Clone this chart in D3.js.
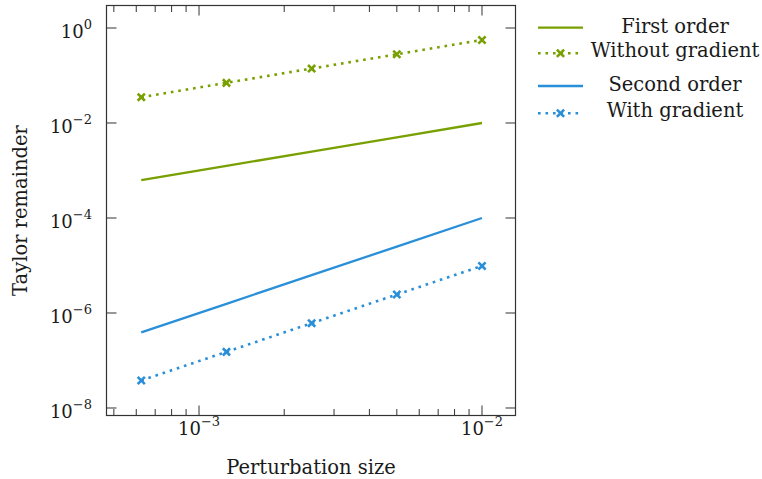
<!DOCTYPE html>
<html>
<head>
<meta charset="utf-8">
<script src="https://cdn.jsdelivr.net/npm/d3@7"></script>
<style>
  body { margin: 0; background: #fff; }
  svg { display: block; font-family: "DejaVu Serif", serif; }
</style>
</head>
<body>
<script>
// Perturbation sizes and Taylor remainders
const perturbation = [0.000625, 0.00125, 0.0025, 0.005, 0.01];
const firstOrder = [0.000625, 0.00125, 0.0025, 0.005, 0.01];
const withoutGradient = [0.035, 0.07, 0.14, 0.28, 0.56];
const secondOrder = [3.9e-7, 1.56e-6, 6.25e-6, 2.5e-5, 1e-4];
const withGradient = [3.8e-8, 1.52e-7, 6.1e-7, 2.45e-6, 9.8e-6];

const xTickExponents = [-3, -2];
const yTickExponents = [0, -2, -4, -6, -8];
const legendLabels = ['First order', 'Without gradient', 'Second order', 'With gradient'];

const green = '#77a000';
const blue = '#2a8fd9';

const series = [
  {name: legendLabels[0], values: firstOrder, color: green, dotted: false},
  {name: legendLabels[1], values: withoutGradient, color: green, dotted: true},
  {name: legendLabels[2], values: secondOrder, color: blue, dotted: false},
  {name: legendLabels[3], values: withGradient, color: blue, dotted: true}
];

const width = 762, height = 479;
const plot = {left: 106.5, right: 515.5, top: 5.5, bottom: 415.5};
const fontSize = 19.5;
const tickFont = 18;

const x = d3.scaleLog()
    .domain([Math.pow(10, -3.327), Math.pow(10, -1.8816)])
    .range([plot.left, plot.right]);
const y = d3.scaleLog()
    .domain([Math.pow(10, -8.158), Math.pow(10, 0.4737)])
    .range([plot.bottom, plot.top]);

const svg = d3.select('body').append('svg')
    .attr('width', width)
    .attr('height', height)
    .attr('viewBox', [0, 0, width, height]);

const frameColor = '#333';
const textColor = '#1a1a1a';

// minor + major x ticks (top and bottom, pointing inward)
const xTicks = [];
[-4, -3].forEach(e => {
  for (let k = 1; k <= 9; k++) {
    const v = k * Math.pow(10, e);
    if (v >= x.domain()[0] && v <= x.domain()[1]) xTicks.push(v);
  }
});
xTicks.push(1e-2);
const isMajor = v => Math.abs(Math.log10(v) - Math.round(Math.log10(v))) < 1e-9;

const ticks = svg.append('g').attr('stroke', frameColor).attr('stroke-width', 1);
ticks.selectAll('line.xb')
    .data(xTicks)
    .join('line')
    .attr('x1', d => x(d)).attr('x2', d => x(d))
    .attr('y1', plot.bottom)
    .attr('y2', d => plot.bottom - (isMajor(d) ? 10 : 6.5));
ticks.selectAll('line.xt')
    .data(xTicks)
    .join('line')
    .attr('x1', d => x(d)).attr('x2', d => x(d))
    .attr('y1', plot.top)
    .attr('y2', d => plot.top + (isMajor(d) ? 10 : 6.5));
ticks.selectAll('line.yl')
    .data(yTickExponents)
    .join('line')
    .attr('x1', plot.left).attr('x2', plot.left + 10)
    .attr('y1', d => y(Math.pow(10, d))).attr('y2', d => y(Math.pow(10, d)));
ticks.selectAll('line.yr')
    .data(yTickExponents)
    .join('line')
    .attr('x1', plot.right).attr('x2', plot.right - 10)
    .attr('y1', d => y(Math.pow(10, d))).attr('y2', d => y(Math.pow(10, d)));

// frame
svg.append('rect')
    .attr('x', plot.left).attr('y', plot.top)
    .attr('width', plot.right - plot.left)
    .attr('height', plot.bottom - plot.top)
    .attr('fill', 'none')
    .attr('stroke', frameColor)
    .attr('stroke-width', 1.2);

// tick labels
function powerLabel(sel, e) {
  sel.append('tspan').attr('font-size', tickFont).text('10');
  sel.append('tspan').attr('font-size', 13).attr('dy', -8.5)
      .text(e < 0 ? '\u2212' + (-e) : String(e));
}

svg.append('g').selectAll('text')
    .data(xTickExponents)
    .join('text')
    .attr('x', d => x(Math.pow(10, d)))
    .attr('y', 434.5)
    .attr('text-anchor', 'middle')
    .attr('fill', textColor)
    .each(function(d) { powerLabel(d3.select(this), d); });

svg.append('g').selectAll('text')
    .data(yTickExponents)
    .join('text')
    .attr('x', 92)
    .attr('y', d => y(Math.pow(10, d)) + 9.7)
    .attr('text-anchor', 'end')
    .attr('fill', textColor)
    .each(function(d) { powerLabel(d3.select(this), d); });

// axis labels
svg.append('text')
    .attr('x', (plot.left + plot.right) / 2)
    .attr('y', 474)
    .attr('text-anchor', 'middle')
    .attr('font-size', fontSize)
    .attr('fill', textColor)
    .text('Perturbation size');

svg.append('text')
    .attr('transform', `translate(27,${(plot.top + plot.bottom) / 2}) rotate(-90)`)
    .attr('text-anchor', 'middle')
    .attr('font-size', fontSize)
    .attr('fill', textColor)
    .text('Taylor remainder');

// lines
const line = d3.line()
    .x((d, i) => x(perturbation[i]))
    .y(d => y(d));

const dash = '2.6,4.9';

svg.append('g').selectAll('path')
    .data(series)
    .join('path')
    .attr('d', d => line(d.values))
    .attr('fill', 'none')
    .attr('stroke', d => d.color)
    .attr('stroke-width', d => d.dotted ? 2.6 : 2.3)
    .attr('stroke-dasharray', d => d.dotted ? dash : null);

// cross markers
const crossPath = s => `M${-s},${-s}L${s},${s}M${-s},${s}L${s},${-s}`;

series.filter(s => s.dotted).forEach(s => {
  svg.append('g').selectAll('path')
      .data(s.values)
      .join('path')
      .attr('transform', (d, i) => `translate(${x(perturbation[i])},${y(d)})`)
      .attr('d', crossPath(3.6))
      .attr('stroke', s.color)
      .attr('stroke-width', 2.6)
      .attr('fill', 'none');
});

// legend
const legendRows = [27.7, 53.3, 86, 113.3];
const legend = svg.append('g');
const item = legend.selectAll('g')
    .data(series)
    .join('g')
    .attr('transform', (d, i) => `translate(0,${legendRows[i]})`);

item.append('line')
    .attr('x1', 538).attr('x2', 583)
    .attr('stroke', d => d.color)
    .attr('stroke-width', d => d.dotted ? 2.6 : 2.3)
    .attr('stroke-dasharray', d => d.dotted ? dash : null);

item.filter(d => d.dotted).append('path')
    .attr('transform', 'translate(560.5,0)')
    .attr('d', crossPath(3.6))
    .attr('stroke', d => d.color)
    .attr('stroke-width', 2.6)
    .attr('fill', 'none');

item.append('text')
    .attr('x', 675)
    .attr('y', (d, i) => i % 2 === 0 ? 5 : 3.6)
    .attr('text-anchor', 'middle')
    .attr('font-size', fontSize)
    .attr('fill', textColor)
    .text(d => d.name);
</script>
</body>
</html>
